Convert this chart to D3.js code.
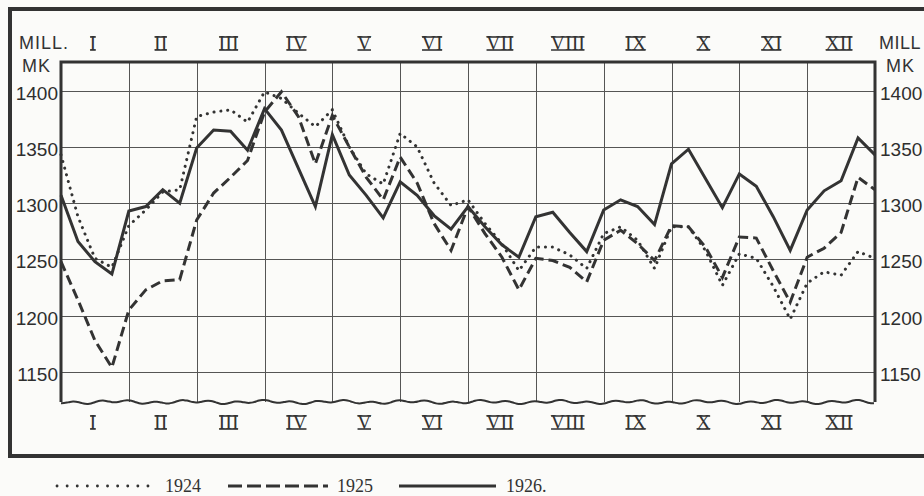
<!DOCTYPE html>
<html>
  <head>
    <meta http-equiv="Content-Type" content="text/html;charset=utf-8"/>
    <style type="text/css">

body {
  margin: 0;
  background: #fbfbf9;
  overflow: hidden;
}

svg {
  display: block;
}

.grid line {
  stroke: #555;
  stroke-width: 1;
  shape-rendering: crispEdges;
}

.series {
  fill: none;
  stroke: #333;
  stroke-width: 3;
  stroke-linejoin: miter;
}

.tick-label {
  font: 19px "Liberation Sans", Arial, sans-serif;
  fill: #2e2e2e;
}

.unit {
  font: 18px "Liberation Sans", Arial, sans-serif;
  fill: #333;
  letter-spacing: 1px;
}

.month text {
  font: 20px "Liberation Serif", "Times New Roman", serif;
  fill: #333;
}

.month line {
  stroke: #333;
  stroke-width: 1.6;
}

.legend text {
  font: 18px "Liberation Serif", "Times New Roman", serif;
  fill: #333;
}

    </style>
  </head>
  <body>
    <svg></svg>

    <script type="text/javascript" src="https://cdn.jsdelivr.net/npm/d3@7"></script>

    <script type="text/javascript">

// Notes in circulation, mill. mk; year-start value then 7th, 15th, 23rd, end of each month
var months = ["I", "II", "III", "IV", "V", "VI", "VII", "VIII", "IX", "X", "XI", "XII"];
var yTicks = [1150, 1200, 1250, 1300, 1350, 1400];

var v1924 = [1343,
  1288, 1251, 1243, 1280,
  1294, 1310, 1312, 1377,
  1381, 1383, 1372, 1399,
  1393, 1380, 1368, 1383,
  1350, 1326, 1317, 1362,
  1350, 1318, 1298, 1303,
  1282, 1264, 1240, 1261,
  1261, 1254, 1242, 1273,
  1279, 1267, 1242, 1279,
  1279, 1258, 1227, 1255,
  1251, 1226, 1197, 1229,
  1239, 1236, 1257, 1251];

var v1925 = [1248,
  1214, 1178, 1154, 1205,
  1223, 1231, 1232, 1285,
  1309, 1323, 1338, 1381,
  1399, 1377, 1335, 1378,
  1350, 1323, 1303, 1341,
  1318, 1282, 1258, 1297,
  1273, 1252, 1223, 1251,
  1249, 1243, 1230, 1267,
  1276, 1264, 1249, 1280,
  1279, 1261, 1234, 1270,
  1269, 1240, 1212, 1252,
  1260, 1274, 1323, 1312];

var v1926 = [1307,
  1266, 1248, 1237, 1293,
  1297, 1312, 1300, 1349,
  1365, 1364, 1347, 1384,
  1365, 1331, 1297, 1361,
  1325, 1307, 1287, 1319,
  1307, 1289, 1277, 1297,
  1279, 1263, 1252, 1288,
  1292, 1274, 1257, 1294,
  1303, 1297, 1281, 1335,
  1348, 1322, 1296, 1326,
  1315, 1288, 1258, 1294,
  1311, 1320, 1358, 1343];

var series = [
  {name: "1924", values: v1924, dash: "0.1,6.8", width: 4, cap: "round"},
  {name: "1925", values: v1925, dash: "10,5", width: 3, cap: "butt"},
  {name: "1926.", values: v1926, dash: null, width: 3, cap: "butt"}
];

var W = 924, H = 496;
var pLeft = 61, pRight = 875, pTop = 62, pBottom = 402;

var svg = d3.select("svg")
    .attr("width", W)
    .attr("height", H);

var x = d3.scaleLinear().domain([0, 48]).range([pLeft, pRight]);
var xm = d3.scaleLinear().domain([0, 12]).range([pLeft, pRight]);
var y = d3.scaleLinear().domain([1123.3, 1425.5]).range([pBottom, pTop]);

// outer frame (runs off the right edge)
svg.append("path")
    .attr("d", "M" + (W + 10) + ",9 H10 V456 H" + (W + 10))
    .attr("fill", "none")
    .attr("stroke", "#333")
    .attr("stroke-width", 4);

// grid
var grid = svg.append("g").attr("class", "grid");

grid.selectAll("line.h")
    .data(yTicks)
  .enter().append("line")
    .attr("class", "h")
    .attr("x1", pLeft).attr("x2", pRight)
    .attr("y1", function(d) { return Math.round(y(d)) + 0.5; })
    .attr("y2", function(d) { return Math.round(y(d)) + 0.5; });

grid.selectAll("line.v")
    .data(d3.range(1, 12))
  .enter().append("line")
    .attr("class", "v")
    .attr("x1", function(d) { return Math.round(xm(d)) + 0.5; })
    .attr("x2", function(d) { return Math.round(xm(d)) + 0.5; })
    .attr("y1", pTop).attr("y2", pBottom);

// plot frame: top, left, right
svg.append("path")
    .attr("d", "M" + pLeft + "," + pBottom + " V" + pTop + " H" + pRight + " V" + pBottom)
    .attr("fill", "none")
    .attr("stroke", "#333")
    .attr("stroke-width", 3);

// wavy broken-off bottom edge
var wave = d3.range(pLeft, pRight + 1, 3).map(function(px) {
  return [px, pBottom + 1.3 * Math.sin(px / 4.3) + 0.9 * Math.sin(px / 11.7 + 1)];
});
svg.append("path")
    .attr("d", d3.line().curve(d3.curveBasis)(wave))
    .attr("fill", "none")
    .attr("stroke", "#333")
    .attr("stroke-width", 2);

// series lines
var line = d3.line()
    .x(function(d, i) { return x(i); })
    .y(function(d) { return y(d); });

svg.selectAll("path.series")
    .data(series)
  .enter().append("path")
    .attr("class", "series")
    .attr("d", function(d) { return line(d.values); })
    .attr("stroke-width", function(d) { return d.width; })
    .attr("stroke-linecap", function(d) { return d.cap; })
    .attr("stroke-dasharray", function(d) { return d.dash; });

// y tick labels, both sides
svg.selectAll("text.yl")
    .data(yTicks)
  .enter().append("text")
    .attr("class", "tick-label yl")
    .attr("x", 58)
    .attr("y", function(d) { return y(d) + 9; })
    .attr("text-anchor", "end")
    .text(String);

svg.selectAll("text.yr")
    .data(yTicks)
  .enter().append("text")
    .attr("class", "tick-label yr")
    .attr("x", 880)
    .attr("y", function(d) { return y(d) + 9; })
    .text(String);

// units
svg.append("text").attr("class", "unit").attr("x", 19).attr("y", 49).text("MILL.");
svg.append("text").attr("class", "unit").attr("x", 22).attr("y", 72).text("MK");
svg.append("text").attr("class", "unit").attr("x", 879).attr("y", 49)
    .style("letter-spacing", "0.5px").text("MILL");
svg.append("text").attr("class", "unit").attr("x", 886).attr("y", 72).text("MK");

// month labels, top and bottom, with joined serif bars
[50, 429].forEach(function(base) {
  var g = svg.append("g").attr("class", "month")
    .selectAll("g")
      .data(months)
    .enter().append("g")
      .attr("transform", function(d, i) { return "translate(" + (xm(i + 0.5) - 2) + "," + base + ")"; });

  g.append("text")
      .attr("text-anchor", "middle")
      .text(String);

  g.each(function() {
    var gg = d3.select(this);
    var w = gg.select("text").node().getComputedTextLength();
    [-13, 0].forEach(function(yy) {
      gg.append("line")
          .attr("x1", -w / 2 + 0.5).attr("x2", w / 2 - 0.5)
          .attr("y1", yy).attr("y2", yy);
    });
  });
});

// legend
var legendX = [[57, 153, 165], [228, 328, 337], [399, 496, 506]];
var legend = svg.append("g").attr("class", "legend")
  .selectAll("g")
    .data(series)
  .enter().append("g");

legend.append("line")
    .attr("x1", function(d, i) { return legendX[i][0]; })
    .attr("x2", function(d, i) { return legendX[i][1]; })
    .attr("y1", 486).attr("y2", 486)
    .attr("stroke", "#333")
    .attr("stroke-width", function(d, i) { return i === 0 ? 2.8 : 3; })
    .attr("stroke-linecap", function(d) { return d.cap; })
    .attr("stroke-dasharray", function(d, i) { return i === 0 ? "0.1,10" : (i === 1 ? "14,5" : null); });

legend.append("text")
    .attr("x", function(d, i) { return legendX[i][2]; })
    .attr("y", 492)
    .text(function(d) { return d.name; });

    </script>
  </body>
</html>
